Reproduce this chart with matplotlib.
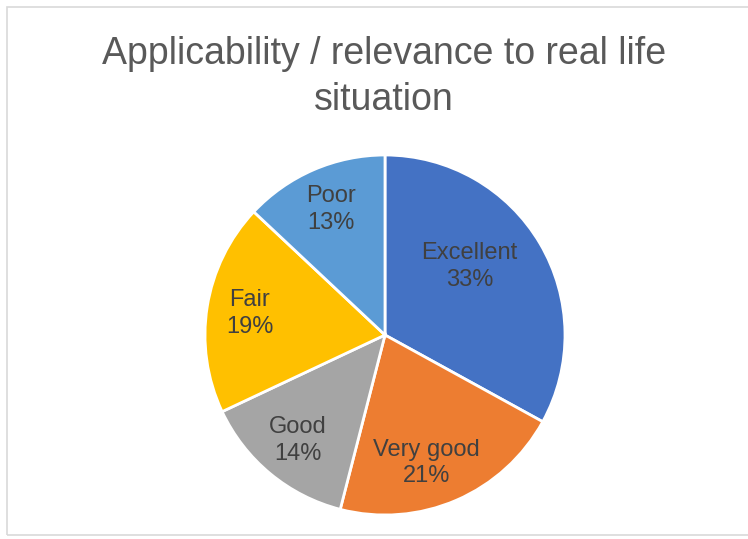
import matplotlib
matplotlib.use("Agg")
import matplotlib.pyplot as plt
from matplotlib.patches import Rectangle

categories = ['Excellent', 'Very good', 'Good', 'Fair', 'Poor']
shares = [33, 21, 14, 19, 13]
colors = ['#4472C4', '#ED7D31', '#A5A5A5', '#FFC000', '#5B9BD5']
title = 'Applicability / relevance to real life\nsituation'

plt.rcParams['font.family'] = ['Liberation Sans', 'DejaVu Sans']

fig = plt.figure(figsize=(7.48, 5.39), dpi=100)
fig.patches.append(Rectangle((7/748, 4/539), 1.0, 528/539, transform=fig.transFigure,
                             fill=False, edgecolor='#d9d9d9', linewidth=1.2))

ax = fig.add_axes([205/748, 24/539, 360/748, 360/539])
wedges, texts = ax.pie(
    shares,
    colors=colors,
    startangle=90,
    counterclock=False,
    labels=[f'{c}\n{s}%' for c, s in zip(categories, shares)],
    labeldistance=0.76,
    wedgeprops=dict(edgecolor='white', linewidth=2),
    textprops=dict(color='#404040', fontsize=17, ha='center', va='center', linespacing=1.25),
)
# Excel's best-fit placement nudges a couple of labels
texts[0].set_position((0.47, 0.38))
texts[1].set_position((0.23, -0.71))
ax.set_xlim(-1, 1)
ax.set_ylim(-1, 1)
ax.set_aspect('equal')

fig.text(0.513, 0.857, title, ha='center', va='center', fontsize=27, color='#595959',
         linespacing=1.37)

fig.savefig('out.png', dpi=100)
